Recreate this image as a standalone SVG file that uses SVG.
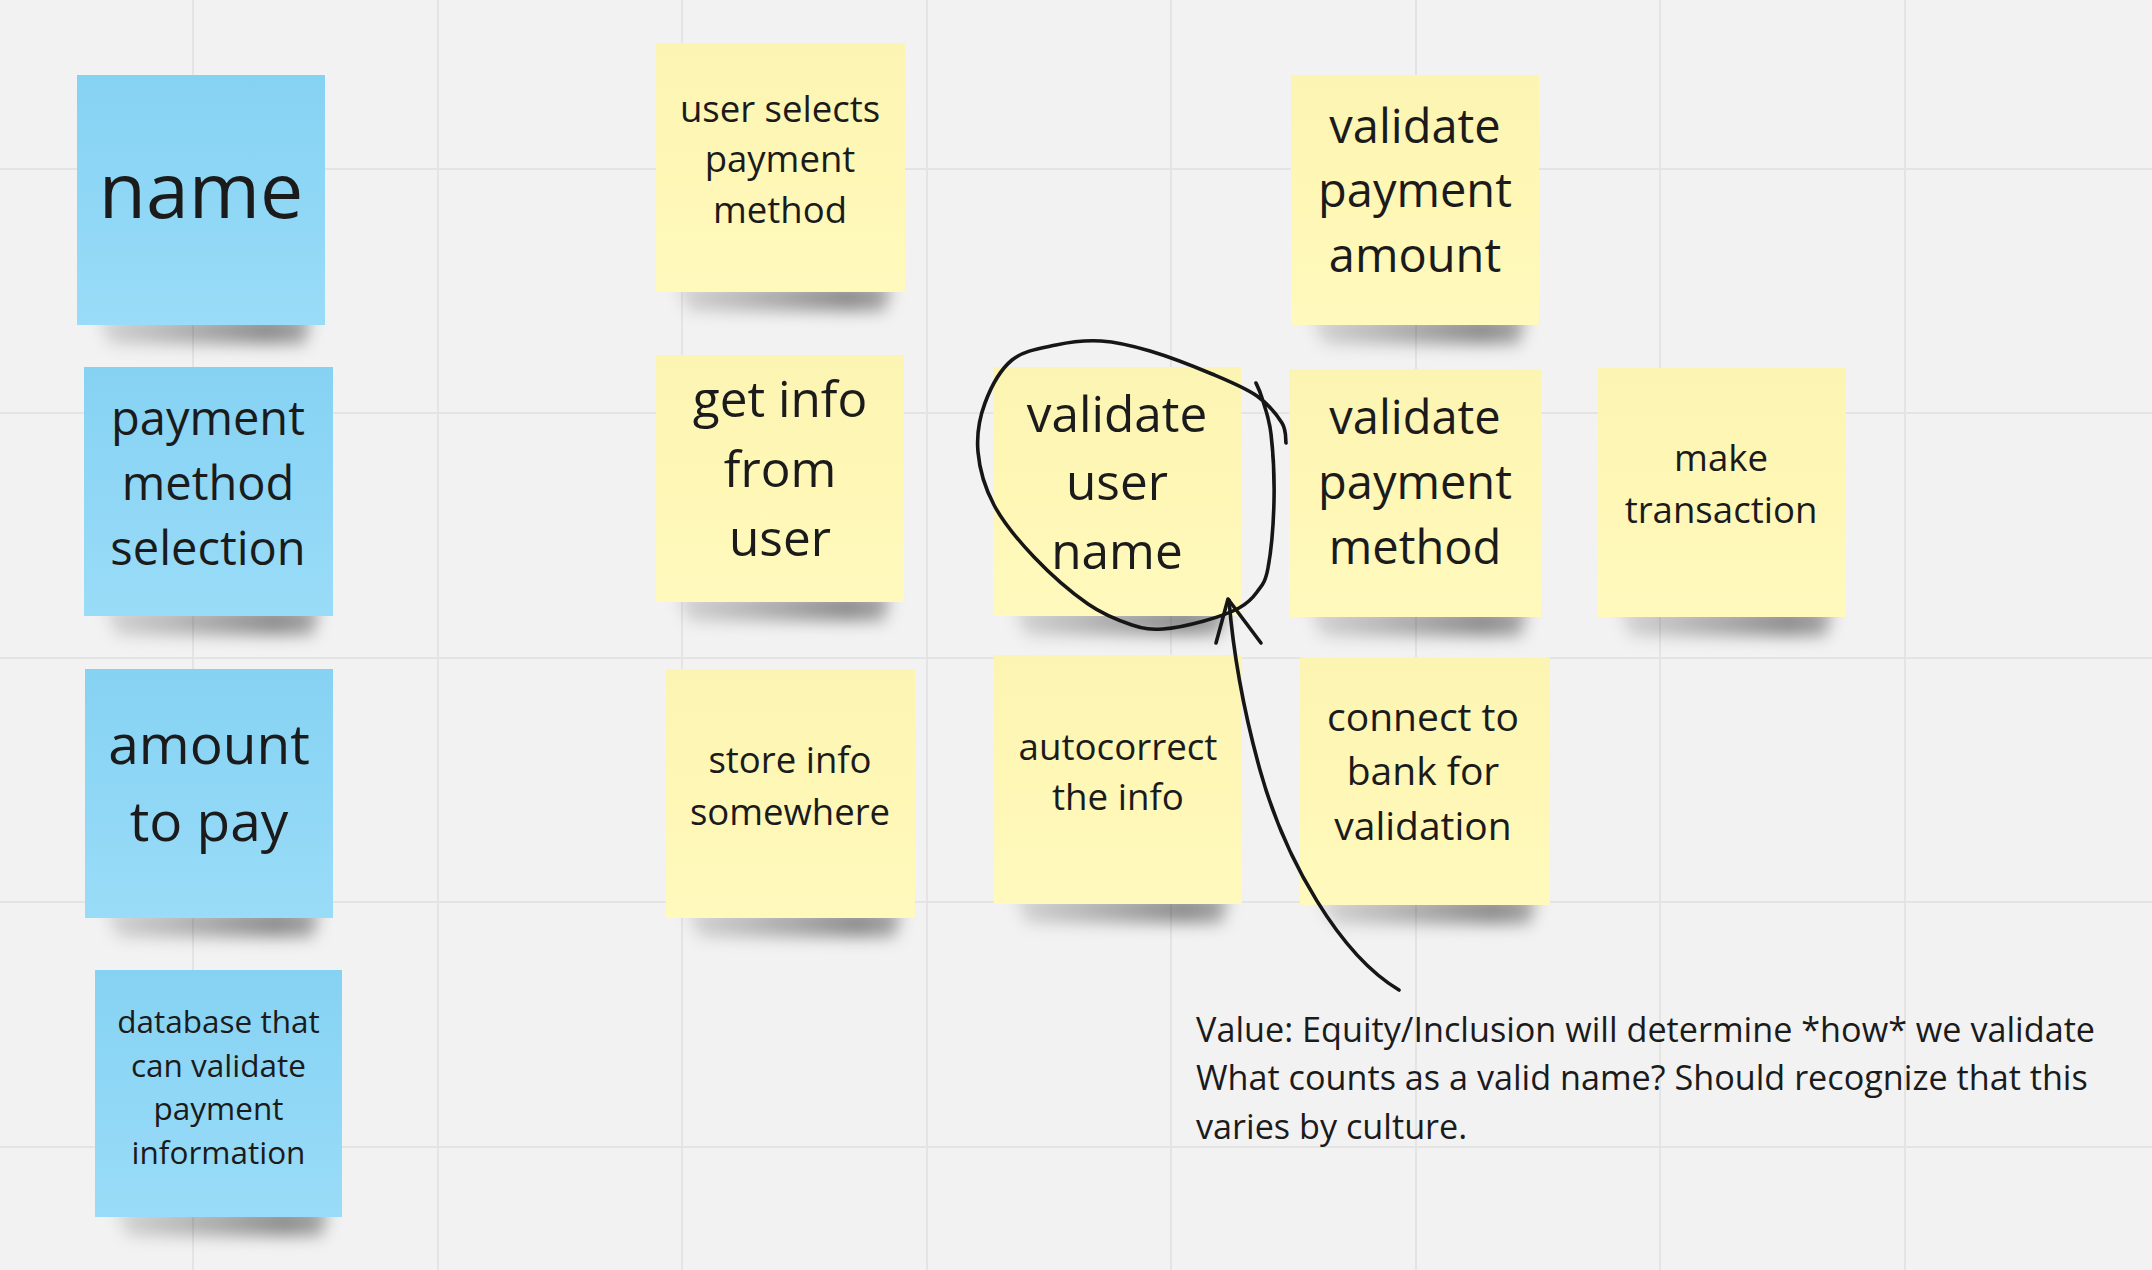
<svg xmlns="http://www.w3.org/2000/svg" width="2152" height="1270" viewBox="0 0 2152 1270">
<defs>
<style>
.grid line{stroke:#e4e4e4;stroke-width:2}
.blue{fill:url(#gBlue)}
.yellow{fill:url(#gYellow)}
.sh{fill:url(#gShadow);filter:url(#blur)}
.t{font-family:"Open Sans","Noto Sans","DejaVu Sans",sans-serif;fill:#1b1b1b;text-anchor:middle}
.note{font-family:"Open Sans","Noto Sans","DejaVu Sans",sans-serif;fill:#1b1b1b;font-size:34.2px}
.ink{fill:none;stroke:#161616;stroke-width:3.6;stroke-linecap:round;stroke-linejoin:round}
</style>
<linearGradient id="gBlue" x1="0" y1="0" x2="0" y2="1">
<stop offset="0" stop-color="#86d2f3"/>
<stop offset="1" stop-color="#99dcf8"/>
</linearGradient>
<linearGradient id="gYellow" x1="0" y1="0" x2="0" y2="1">
<stop offset="0" stop-color="#fbf4b3"/>
<stop offset="0.5" stop-color="#fef7b6"/>
<stop offset="1" stop-color="#fff9bd"/>
</linearGradient>
<linearGradient id="gShadow" x1="0" y1="0" x2="1" y2="0">
<stop offset="0" stop-color="#000" stop-opacity="0.12"/>
<stop offset="0.8" stop-color="#000" stop-opacity="0.42"/>
<stop offset="1" stop-color="#000" stop-opacity="0.3"/>
</linearGradient>
<filter id="blur" x="-20%" y="-100%" width="140%" height="300%">
<feGaussianBlur stdDeviation="8"/>
</filter>
</defs>
<rect width="2152" height="1270" fill="#f2f2f2"/>
<g class="grid">
<line x1="193" y1="0" x2="193" y2="1270"/>
<line x1="438" y1="0" x2="438" y2="1270"/>
<line x1="682" y1="0" x2="682" y2="1270"/>
<line x1="927" y1="0" x2="927" y2="1270"/>
<line x1="1171" y1="0" x2="1171" y2="1270"/>
<line x1="1416" y1="0" x2="1416" y2="1270"/>
<line x1="1660" y1="0" x2="1660" y2="1270"/>
<line x1="1905" y1="0" x2="1905" y2="1270"/>
<line x1="0" y1="169" x2="2152" y2="169"/>
<line x1="0" y1="413" x2="2152" y2="413"/>
<line x1="0" y1="658" x2="2152" y2="658"/>
<line x1="0" y1="902" x2="2152" y2="902"/>
<line x1="0" y1="1147" x2="2152" y2="1147"/>
</g>

<g id="node-name">
<path class="sh" d="M97,316 H312 L305,344 H110 Z"/>
<rect class="blue" x="77" y="75" width="248" height="250"/>
<text class="t" x="201" y="218" font-size="77">name</text>
</g>

<g id="node-payment-method-selection">
<path class="sh" d="M104,607 H320 L313,635 H117 Z"/>
<rect class="blue" x="84" y="367" width="249" height="249"/>
<text class="t" x="208" font-size="47"><tspan x="208" y="435">payment</tspan><tspan x="208" y="500">method</tspan><tspan x="208" y="565">selection</tspan></text>
</g>

<g id="node-amount-to-pay">
<path class="sh" d="M105,909 H320 L313,937 H118 Z"/>
<rect class="blue" x="85" y="669" width="248" height="249"/>
<text class="t" x="209" font-size="55"><tspan x="209" y="764">amount</tspan><tspan x="209" y="841">to pay</tspan></text>
</g>

<g id="node-database">
<path class="sh" d="M115,1208 H329 L322,1236 H128 Z"/>
<rect class="blue" x="95" y="970" width="247" height="247"/>
<text class="t" x="218.5" font-size="31.5"><tspan x="218.5" y="1033">database that</tspan><tspan x="218.5" y="1076.5">can validate</tspan><tspan x="218.5" y="1120">payment</tspan><tspan x="218.5" y="1163.5">information</tspan></text>
</g>

<g id="node-user-selects">
<path class="sh" d="M676,283 H892 L885,311 H689 Z"/>
<rect class="yellow" x="656" y="43" width="249" height="249"/>
<text class="t" x="780" font-size="36.5"><tspan x="780" y="121.5">user selects</tspan><tspan x="780" y="172">payment</tspan><tspan x="780" y="223">method</tspan></text>
</g>

<g id="node-get-info">
<path class="sh" d="M676,593 H891 L884,621 H689 Z"/>
<rect class="yellow" x="656" y="355" width="248" height="247"/>
<text class="t" x="780" font-size="49.5"><tspan x="780" y="417">get info</tspan><tspan x="780" y="486.5">from</tspan><tspan x="780" y="556">user</tspan></text>
</g>

<g id="node-store-info">
<path class="sh" d="M686,909 H902 L895,937 H699 Z"/>
<rect class="yellow" x="666" y="669" width="249" height="249"/>
<text class="t" x="790" font-size="36.5"><tspan x="790" y="772.5">store info</tspan><tspan x="790" y="825">somewhere</tspan></text>
</g>

<g id="node-validate-user-name">
<path class="sh" d="M1013,607 H1228 L1221,635 H1026 Z"/>
<rect class="yellow" x="993" y="367" width="248" height="249"/>
<text class="t" x="1117" font-size="49.5"><tspan x="1117" y="432">validate</tspan><tspan x="1117" y="500">user</tspan><tspan x="1117" y="569">name</tspan></text>
</g>

<g id="node-autocorrect">
<path class="sh" d="M1014,895 H1229 L1222,923 H1027 Z"/>
<rect class="yellow" x="994" y="655" width="248" height="249"/>
<text class="t" x="1118" font-size="36.7"><tspan x="1118" y="760">autocorrect</tspan><tspan x="1118" y="810">the info</tspan></text>
</g>

<g id="node-validate-payment-amount">
<path class="sh" d="M1311,316 H1526 L1519,344 H1324 Z"/>
<rect class="yellow" x="1291" y="75" width="248" height="250"/>
<text class="t" x="1415" font-size="47"><tspan x="1415" y="142.5">validate</tspan><tspan x="1415" y="207">payment</tspan><tspan x="1415" y="271.5">amount</tspan></text>
</g>

<g id="node-validate-payment-method">
<path class="sh" d="M1309,608 H1528 L1521,636 H1322 Z"/>
<rect class="yellow" x="1289" y="369" width="252" height="248"/>
<text class="t" x="1415" font-size="47"><tspan x="1415" y="434">validate</tspan><tspan x="1415" y="499">payment</tspan><tspan x="1415" y="564">method</tspan></text>
</g>

<g id="node-connect-bank">
<path class="sh" d="M1320,896 H1537 L1530,924 H1333 Z"/>
<rect class="yellow" x="1300" y="657" width="250" height="248"/>
<text class="t" x="1423" font-size="39"><tspan x="1423" y="730.5">connect to</tspan><tspan x="1423" y="785">bank for</tspan><tspan x="1423" y="839.5">validation</tspan></text>
</g>

<g id="node-make-transaction">
<path class="sh" d="M1618,608 H1833 L1826,636 H1631 Z"/>
<rect class="yellow" x="1598" y="368" width="248" height="249"/>
<text class="t" x="1721" font-size="36.6"><tspan x="1721" y="471">make</tspan><tspan x="1721" y="523">transaction</tspan></text>
</g>

<g id="annotation-circle">
<path class="ink" d="M1286,443 C1285.3,439.7 1286.8,430.8 1282,423 C1277.2,415.2 1268.7,404.2 1257,396 C1245.3,387.8 1229.8,381.5 1212,374 C1194.2,366.5 1168.5,356.5 1150,351 C1131.5,345.5 1116.7,342 1101,341 C1085.3,340 1070.8,341.8 1056,345 C1041.2,348.2 1023.8,350.3 1012,360 C1000.2,369.7 990.7,387.7 985,403 C979.3,418.3 976.5,435 978,452 C979.5,469 984.7,487.5 994,505 C1003.3,522.5 1018.3,540.5 1034,557 C1049.7,573.5 1071.7,592.7 1088,604 C1104.3,615.3 1119.5,620.8 1132,625 C1144.5,629.2 1151,629.7 1163,629 C1175,628.3 1191.3,624.5 1204,621 C1216.7,617.5 1230.2,612.8 1239,608 C1247.8,603.2 1252.2,598.7 1257,592 C1261.8,585.3 1265.2,583.2 1268,568 C1270.8,552.8 1273.5,523.3 1274,501 C1274.5,478.7 1273,451.2 1271,434 C1269,416.8 1264.5,406.5 1262,398 C1259.5,389.5 1257,385.5 1256,383"/>
</g>

<g id="connectors">
<path class="ink" d="M1399,990 C1340,955 1285,860 1260,770 C1242,705 1233,650 1229,600"/>
<path class="ink" d="M1216,643 L1228,599 L1261,643"/>
</g>

<g id="note-value">
<text class="note"><tspan x="1196" y="1041.5">Value: Equity/Inclusion will determine *how* we validate</tspan><tspan x="1196" y="1090">What counts as a valid name? Should recognize that this</tspan><tspan x="1196" y="1138.5">varies by culture.</tspan></text>
</g>
</svg>
